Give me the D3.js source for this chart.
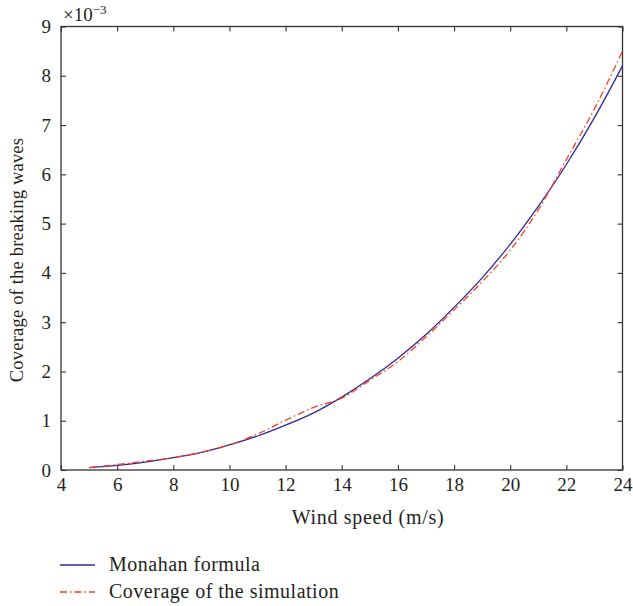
<!DOCTYPE html>
<html><head><meta charset="utf-8">
<script src="https://cdn.jsdelivr.net/npm/d3@7"></script>
<style>body{margin:0;background:#fff}text{font-family:"Liberation Serif","DejaVu Serif",serif;fill:#231f20}</style>
</head><body><svg id="c" width="633" height="606"></svg>
<script>
const windSpeed = [5,6,7,8,9,10,11,12,13,14,15,16,17,18,19,20,21,22,23,24];
const monahan =   [0.05,0.095,0.16,0.25,0.36,0.51,0.69,0.91,1.16,1.48,1.85,2.27,2.75,3.30,3.90,4.58,5.35,6.20,7.15,8.20];
const simulation =[0.05,0.11,0.18,0.25,0.36,0.51,0.73,1.01,1.27,1.46,1.82,2.20,2.70,3.25,3.82,4.46,5.28,6.30,7.33,8.50];
const xTicks = [4,6,8,10,12,14,16,18,20,22,24];
const yTicks = [0,1,2,3,4,5,6,7,8,9];
const seriesNames = ["Monahan formula","Coverage of the simulation"];

const svg = d3.select("#c");
const L=61,R=622.5,T=26.5,B=470;
const x = d3.scaleLinear().domain([4,24]).range([L,R]);
const y = d3.scaleLinear().domain([0,9]).range([B,T]);
const axisCol="#333";

svg.append("rect").attr("x",L).attr("y",T).attr("width",R-L).attr("height",B-T)
  .attr("fill","none").attr("stroke",axisCol).attr("stroke-width",1.3);

function styleAxis(g, showText){
  g.select(".domain").remove();
  g.selectAll(".tick line").attr("stroke",axisCol).attr("stroke-width",1.1);
  g.selectAll(".tick text").style("font-size","19px");
  if(!showText) g.selectAll(".tick text").remove();
}
svg.append("g").attr("transform",`translate(0,${B})`)
  .call(d3.axisBottom(x).tickValues(xTicks).tickSize(-5).tickPadding(8).tickFormat(d3.format("d")))
  .call(g=>styleAxis(g,true));
svg.append("g").attr("transform",`translate(0,${T})`)
  .call(d3.axisTop(x).tickValues(xTicks).tickSize(-5).tickFormat(""))
  .call(g=>styleAxis(g,false));
svg.append("g").attr("transform",`translate(${L},0)`)
  .call(d3.axisLeft(y).tickValues(yTicks).tickSize(-5).tickPadding(10).tickFormat(d3.format("d")))
  .call(g=>styleAxis(g,true));
svg.append("g").attr("transform",`translate(${R},0)`)
  .call(d3.axisRight(y).tickValues(yTicks).tickSize(-5).tickFormat(""))
  .call(g=>styleAxis(g,false));

const mt = svg.append("text").attr("x",63).attr("y",21).style("font-size","19px");
mt.append("tspan").text("×10");
mt.append("tspan").attr("dy",-7).style("font-size","13px").text("−3");

svg.append("text").attr("x",368).attr("y",524).attr("text-anchor","middle")
  .style("font-size","20px").style("letter-spacing","0.7px").text("Wind speed (m/s)");
svg.append("text").attr("transform","translate(23,260) rotate(-90)").attr("text-anchor","middle")
  .style("font-size","18.5px").style("letter-spacing","0.2px").text("Coverage of the breaking waves");

const blue="#2e2a94", red="#ff3b1f";
const line = d3.line().x((d,i)=>x(windSpeed[i])).y(d=>y(d)).curve(d3.curveMonotoneX);
svg.append("path").datum(monahan).attr("d",line).attr("fill","none")
  .attr("stroke",blue).attr("stroke-width",1.3);
svg.append("path").datum(simulation).attr("d",line).attr("fill","none")
  .attr("stroke",red).attr("stroke-width",1.3).attr("stroke-dasharray","7,3,1.5,3");

const leg = [{name:seriesNames[0],c:blue,da:null,y:565},{name:seriesNames[1],c:red,da:"7,3,1.5,3",y:592}];
leg.forEach(d=>{
  svg.append("line").attr("x1",60).attr("x2",95).attr("y1",d.y).attr("y2",d.y)
    .attr("stroke",d.c).attr("stroke-width",1.3).attr("stroke-dasharray",d.da);
  svg.append("text").attr("x",109).attr("y",d.y+6).style("font-size","20px").style("letter-spacing","0.5px").text(d.name);
});
</script></body></html>
